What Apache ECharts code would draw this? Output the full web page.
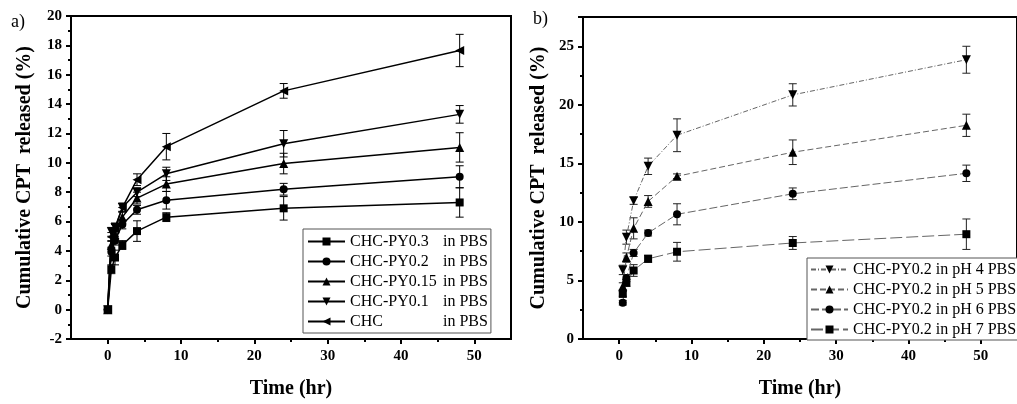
<!DOCTYPE html>
<html>
<head>
<meta charset="utf-8">
<script src="https://cdn.jsdelivr.net/npm/echarts@6/dist/echarts.min.js"></script>
<style>html,body{margin:0;padding:0;background:#fff}#c{width:1017px;height:404px}</style>
</head>
<body>
<div id="c"></div>
<script>
// ---- data (panel a) ----
const xLeft = [0, 0.5, 1, 2, 4, 8, 24, 48];
const py03 = [0, 2.75, 3.55, 4.4, 5.35, 6.3, 6.9, 7.3];
const py03Err = [0, 0.3, 0.5, 0.3, 0.7, 0.3, 0.8, 1.0];
const py02 = [0, 3.95, 4.7, 5.8, 6.8, 7.45, 8.2, 9.05];
const py02Err = [0, 0.3, 0.3, 0.3, 0.3, 0.6, 0.4, 0.75];
const py015 = [0, 4.4, 5.1, 6.3, 7.6, 8.55, 9.95, 11.05];
const py015Err = [0, 0.3, 0.3, 0.4, 0.4, 0.5, 0.7, 1.0];
const py01 = [0, 5.3, 5.6, 6.95, 8.0, 9.25, 11.3, 13.3];
const py01Err = [0, 0.3, 0.3, 0.3, 0.3, 0.45, 0.9, 0.6];
const chc = [0, 4.95, 5.5, 6.95, 8.85, 11.1, 14.9, 17.65];
const chcErr = [0, 0.3, 0.3, 0.3, 0.4, 0.9, 0.5, 1.1];
const leftNames = ['CHC-PY0.3', 'CHC-PY0.2', 'CHC-PY0.15', 'CHC-PY0.1', 'CHC'];

// ---- data (panel b) ----
const xRight = [0.5, 1, 2, 4, 8, 24, 48];
const ph4 = [5.9, 8.7, 11.8, 14.75, 17.4, 20.85, 23.85];
const ph4Err = [0.4, 0.6, 0.3, 0.7, 1.4, 0.95, 1.15];
const ph5 = [4.5, 6.95, 9.45, 11.75, 13.9, 15.95, 18.25];
const ph5Err = [0.3, 0.4, 0.9, 0.5, 0.2, 1.05, 0.95];
const ph6 = [3.1, 5.2, 7.35, 9.05, 10.65, 12.4, 14.15];
const ph6Err = [0.2, 0.3, 0.3, 0.25, 0.9, 0.5, 0.7];
const ph7 = [3.85, 4.8, 5.85, 6.85, 7.45, 8.2, 8.95];
const ph7Err = [0.2, 0.3, 0.5, 0.3, 0.8, 0.55, 1.3];
const rightNames = ['CHC-PY0.2 in pH 4 PBS', 'CHC-PY0.2 in pH 5 PBS', 'CHC-PY0.2 in pH 6 PBS', 'CHC-PY0.2 in pH 7 PBS'];

const xMajor = [0, 10, 20, 30, 40, 50];
const xMinor = [5, 15, 25, 35, 45];

const SERIF = '"Liberation Serif", "Times New Roman", serif';

function errRender(color) {
  return function (params, api) {
    const x = api.value(0), y = api.value(1), e = api.value(2);
    if (!e) return null;
    const t = api.coord([x, y + e]);
    const b = api.coord([x, y - e]);
    const w = 4;
    const st = { stroke: color, lineWidth: 1 };
    return {
      type: 'group',
      children: [
        { type: 'line', shape: { x1: t[0], y1: t[1], x2: b[0], y2: b[1] }, style: st },
        { type: 'line', shape: { x1: t[0] - w, y1: t[1], x2: t[0] + w, y2: t[1] }, style: st },
        { type: 'line', shape: { x1: b[0] - w, y1: b[1], x2: b[0] + w, y2: b[1] }, style: st }
      ]
    };
  };
}

function lineSeries(name, xs, ys, gi, symbol, rot, size, lineStyle) {
  return {
    name: name, type: 'line', xAxisIndex: gi * 2, yAxisIndex: gi,
    data: xs.map((x, i) => [x, ys[i]]),
    symbol: symbol, symbolRotate: rot, symbolSize: size,
    itemStyle: { color: '#000' },
    lineStyle: lineStyle,
    z: 3
  };
}
function errSeries(xs, ys, es, gi, color) {
  return {
    type: 'custom', xAxisIndex: gi * 2, yAxisIndex: gi,
    data: xs.map((x, i) => [x, ys[i], es[i]]),
    renderItem: errRender(color), z: 2, silent: true
  };
}

const solid = { color: '#000', width: 1.5, type: 'solid' };
const grayLine = (dash) => ({ color: '#666', width: 1, type: dash });

function xAxes(gi) {
  return [
    {
      gridIndex: gi, type: 'value', min: -5, max: 55, position: 'bottom',
      name: 'Time (hr)', nameLocation: 'middle', nameGap: 40,
      nameTextStyle: { fontFamily: SERIF, fontWeight: 'bold', fontSize: 20, color: '#000' },
      axisLine: { onZero: false, lineStyle: { color: '#000', width: 2 } },
      axisTick: { inside: false, length: 5, lineStyle: { width: 2, color: '#000' }, customValues: xMajor },
      axisLabel: { customValues: xMajor, fontFamily: SERIF, fontWeight: 'bold', fontSize: 15, color: '#000', margin: 10 },
      splitLine: { show: false }
    },
    {
      gridIndex: gi, type: 'value', min: -5, max: 55, position: 'bottom',
      axisLine: { show: false, onZero: false },
      axisTick: { inside: false, length: 3, lineStyle: { width: 2, color: '#000' }, customValues: xMinor },
      axisLabel: { show: false, customValues: xMinor },
      splitLine: { show: false }
    }
  ];
}

const yTitleStyle = { fontFamily: SERIF, fontWeight: 'bold', fontSize: 20, color: '#000' };
const yLabelStyle = { fontFamily: SERIF, fontWeight: 'bold', fontSize: 15, color: '#000', margin: 9 };

const option = {
  animation: false,
  backgroundColor: '#fff',
  graphic: [
    { type: 'text', left: 11, top: 13, style: { text: 'a)', font: '18px ' + SERIF, fill: '#000' } },
    { type: 'text', left: 533, top: 10, style: { text: 'b)', font: '18px ' + SERIF, fill: '#000' } }
  ],
  grid: [
    { left: 71, top: 16, width: 440, height: 327, show: true, borderColor: '#000', borderWidth: 2, backgroundColor: 'transparent' },
    { left: 583, top: 17, width: 441, height: 326, show: true, borderColor: '#000', borderWidth: 2, backgroundColor: 'transparent' }
  ],
  xAxis: xAxes(0).concat(xAxes(1)),
  yAxis: [
    {
      gridIndex: 0, type: 'value', min: -2, max: 20, interval: 2, position: 'left',
      name: 'Cumulative CPT  released (%)', nameLocation: 'middle', nameGap: 36, nameTextStyle: yTitleStyle,
      axisLine: { onZero: false, lineStyle: { color: '#000', width: 2 } },
      axisTick: { length: 5, lineStyle: { width: 2, color: '#000' } },
      minorTick: { show: true, splitNumber: 2, length: 3, lineStyle: { width: 2, color: '#000' } },
      axisLabel: yLabelStyle,
      splitLine: { show: false }
    },
    {
      gridIndex: 1, type: 'value', min: 0, max: 27.5, interval: 5, position: 'left',
      name: 'Cumulative CPT  released (%)', nameLocation: 'middle', nameGap: 34, nameTextStyle: yTitleStyle,
      axisLine: { onZero: false, lineStyle: { color: '#000', width: 2 } },
      axisTick: { length: 5, lineStyle: { width: 2, color: '#000' } },
      minorTick: { show: true, splitNumber: 2, length: 3, lineStyle: { width: 2, color: '#000' } },
      axisLabel: Object.assign({ showMaxLabel: false }, yLabelStyle),
      splitLine: { show: false }
    }
  ],
  legend: [
    {
      data: leftNames, orient: 'vertical', left: 303, top: 229,
      padding: [4, 3, 3, 4], itemGap: 3, itemWidth: 37, itemHeight: 10,
      borderColor: '#555', borderWidth: 1, backgroundColor: '#fff',
      formatter: (n) => '{n|' + n + '}{p|in PBS}',
      textStyle: {
        fontFamily: SERIF, fontSize: 16, color: '#000', lineHeight: 17,
        rich: { n: { width: 93, fontFamily: SERIF, fontSize: 16, lineHeight: 17 }, p: { fontFamily: SERIF, fontSize: 16, lineHeight: 17 } }
      }
    },
    {
      data: rightNames, orient: 'vertical', left: 807, top: 258,
      padding: [3, 3, 2, 3], itemGap: 3, itemWidth: 37, itemHeight: 10,
      borderColor: '#555', borderWidth: 1, backgroundColor: '#fff',
      textStyle: { fontFamily: SERIF, fontSize: 16, color: '#000', lineHeight: 17 }
    }
  ],
  series: [
    errSeries(xLeft, py03, py03Err, 0, '#000'),
    errSeries(xLeft, py02, py02Err, 0, '#000'),
    errSeries(xLeft, py015, py015Err, 0, '#000'),
    errSeries(xLeft, py01, py01Err, 0, '#000'),
    errSeries(xLeft, chc, chcErr, 0, '#000'),
    lineSeries(leftNames[0], xLeft, py03, 0, 'rect', 0, 8, solid),
    lineSeries(leftNames[1], xLeft, py02, 0, 'circle', 0, 8, solid),
    lineSeries(leftNames[2], xLeft, py015, 0, 'triangle', 0, 9, solid),
    lineSeries(leftNames[3], xLeft, py01, 0, 'triangle', 180, 9, solid),
    lineSeries(leftNames[4], xLeft, chc, 0, 'triangle', 90, 9, solid),
    errSeries(xRight, ph4, ph4Err, 1, '#222'),
    errSeries(xRight, ph5, ph5Err, 1, '#222'),
    errSeries(xRight, ph6, ph6Err, 1, '#222'),
    errSeries(xRight, ph7, ph7Err, 1, '#222'),
    lineSeries(rightNames[0], xRight, ph4, 1, 'triangle', 180, 9, grayLine([5, 2, 1, 2])),
    lineSeries(rightNames[1], xRight, ph5, 1, 'triangle', 0, 9, grayLine([6, 3])),
    lineSeries(rightNames[2], xRight, ph6, 1, 'circle', 0, 8, grayLine([8, 3])),
    lineSeries(rightNames[3], xRight, ph7, 1, 'rect', 0, 8, grayLine([12, 4]))
  ]
};

const chart = echarts.init(document.getElementById('c'), null, { renderer: 'canvas' });
chart.setOption(option);
</script>
</body>
</html>
